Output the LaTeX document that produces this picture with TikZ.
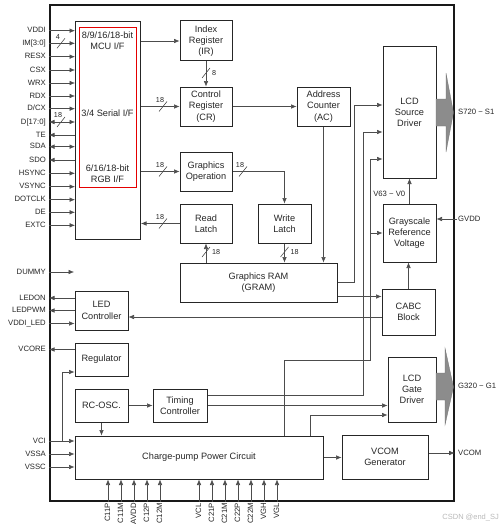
\documentclass[tikz,border=0pt]{standalone}
\usepackage{fontspec}
\setmainfont{Liberation Sans}
\usetikzlibrary{arrows.meta,calc}
\tikzset{
  blk/.style={draw=black!85, line width=1pt, align=center, inner sep=0pt,
    font=\fontsize{9.2}{11.3}\selectfont, text=black!85},
  pinl/.style={font=\fontsize{7.7}{8}\selectfont, inner sep=0pt, text=black!85,
    text height=5.6pt, text depth=1.3pt},
  buslbl/.style={font=\fontsize{7.2}{8}\selectfont, inner sep=0pt, text=black!85},
  ln/.style={draw=black!70, line width=0.6pt},
  arr/.style={ln, -{Latex[length=5.5pt,width=4.6pt]}},
  pinin/.style={arr},
  pinout/.style={ln, {Latex[length=5.5pt,width=4.6pt]}-},
  pinbi/.style={ln, {Latex[length=5.5pt,width=4.6pt]}-{Latex[length=5.5pt,width=4.6pt]}},
  bigarrow/.style={fill=black!45, draw=black!55, line width=0.3pt},
  bush/.pic={\draw[ln] (-4,5) -- (4,-5); \node[buslbl, anchor=south] at (-3,-4) {#1};},
  busv/.pic={\draw[ln] (-4,5) -- (4,-5); \node[buslbl, anchor=west] at (6,0) {#1};},
}
\newcommand\mkblk[6]{\node[blk, minimum width={(#4)-(#2)}, minimum height={(#5)-(#3)}]
  (#1) at ({((#2)+(#4))/2},{((#3)+(#5))/2}) {#6};}
\begin{document}
\begin{tikzpicture}[x=1pt,y=-1pt]
\useasboundingbox (0,0) rectangle (500,527);

% outer chip boundary
\node[draw=black!90, line width=1.7pt, minimum width=404pt, minimum height=496pt,
  anchor=north west, inner sep=0pt] (outer) at (49,4) {};

% interface block
\node[blk, minimum width=65pt, minimum height=218pt, anchor=north west] (iface) at (75,21) {};
\node[draw=red!90!black, line width=1.3pt, minimum width=57pt, minimum height=160pt,
  anchor=north west, inner sep=0pt] (redbox) at (79,27) {};
\node[blk, draw=none] (mcu) at (107.5,41) {8/9/16/18-bit\\MCU I/F};
\node[blk, draw=none] (ser) at (107.5,113) {3/4 Serial I/F};
\node[blk, draw=none] (rgb) at (107.5,174) {6/16/18-bit\\RGB I/F};

% blocks
\mkblk{ir}{180}{21}{232}{61}{Index\\Register\\(IR)}
\mkblk{cr}{180}{87}{232}{126}{Control\\Register\\(CR)}
\mkblk{go}{180}{152}{232}{191}{Graphics\\Operation}
\mkblk{rl}{180}{204}{232}{243}{Read\\Latch}
\mkblk{wl}{258}{204}{311}{243}{Write\\Latch}
\mkblk{gram}{180}{263}{337}{302}{Graphics RAM\\(GRAM)}
\mkblk{ac}{297}{87}{350}{126}{Address\\Counter\\(AC)}
\mkblk{sd}{383}{47}{436}{178}{LCD\\Source\\Driver}
\mkblk{gr}{383}{204}{436}{262}{Grayscale\\Reference\\Voltage}
\mkblk{cabc}{382}{289}{435}{335}{CABC\\Block}
\mkblk{led}{75}{291}{128}{330}{LED\\Controller}
\mkblk{reg}{75}{343}{128}{376}{Regulator}
\mkblk{rco}{75}{389}{128}{422}{RC-OSC.}
\mkblk{tc}{153}{389}{207}{422}{Timing\\Controller}
\mkblk{gd}{388}{357}{436}{422}{LCD\\Gate\\Driver}
\mkblk{cp}{75}{436}{323}{479}{Charge-pump Power Circuit}
\mkblk{vcom}{342}{435}{428}{479}{VCOM\\Generator}

% big output arrows
\filldraw[bigarrow] (436,99) -- (446,99) -- (446,73) -- (453.5,112.5) -- (446,152)
  -- (446,126) -- (436,126) -- cycle;
\filldraw[bigarrow] (436,373) -- (445,373) -- (445,348) -- (453.5,387) -- (445,425)
  -- (445,400) -- (436,400) -- cycle;

% left pins
\foreach \nm/\txt/\yy/\ty in {vddi/VDDI/30.7/in, im/{IM[3:0]}/43.3/in, resx/RESX/56.7/in,
  csx/CSX/70/in, wrx/WRX/83/in, rdx/RDX/96/in, dcx/{D/CX}/108.7/in, d/{D[17:0]}/122/bi,
  te/TE/135/out, sda/SDA/146.7/bi, sdo/SDO/160/out, hsync/HSYNC/173.3/in,
  vsync/VSYNC/186.7/in, dotclk/DOTCLK/199.7/in, de/DE/212.3/in, extc/EXTC/225.3/in}{
  \node[pinl, anchor=east] (p\nm) at (46,\yy) {\txt};
  \draw[pin\ty] (p\nm.east -| outer.west) -- (p\nm.east -| iface.west);
}
\path (61,43.3) pic {bush=4};
\path (61,122) pic {bush=18};

\node[pinl, anchor=east] (pdummy) at (46,272) {DUMMY};
\coordinate (dummyend) at (74,272);
\draw[arr] (pdummy.east -| outer.west) -- (dummyend);

\node[pinl, anchor=east] (pledon) at (46,298) {LEDON};
\node[pinl, anchor=east] (pledpwm) at (46,310.5) {LEDPWM};
\node[pinl, anchor=east] (pvddiled) at (46,323.5) {VDDI\_LED};
\node[pinl, anchor=east] (pvcore) at (46,349.5) {VCORE};
\node[pinl, anchor=east] (pvci) at (46,441) {VCI};
\node[pinl, anchor=east] (pvssa) at (46,454) {VSSA};
\node[pinl, anchor=east] (pvssc) at (46,467) {VSSC};
\draw[pinout] (pledon.east -| outer.west) -- (pledon.east -| led.west);
\draw[pinout] (pledpwm.east -| outer.west) -- (pledpwm.east -| led.west);
\draw[pinin] (pvddiled.east -| outer.west) -- (pvddiled.east -| led.west);
\draw[pinout] (pvcore.east -| outer.west) -- (pvcore.east -| reg.west);
\draw[pinin] (pvci.east -| outer.west) -- (pvci.east -| cp.west);
\draw[pinin] (pvssa.east -| outer.west) -- (pvssa.east -| cp.west);
\draw[pinin] (pvssc.east -| outer.west) -- (pvssc.east -| cp.west);
\coordinate (vcibr) at (62,441);
\coordinate (regin) at ([yshift=-12.5pt]reg.west);
\draw[arr] (vcibr) |- (regin);

% right pins
\node[pinl, anchor=west] (psrc) at (458,112.5) {S720 \textasciitilde{} S1};
\node[pinl, anchor=west] (pgate) at (458,386.5) {G320 \textasciitilde{} G1};
\node[pinl, anchor=west] (pgvdd) at (458,219) {GVDD};
\node[pinl, anchor=west] (pvcom) at (458,453) {VCOM};
\draw[arr] ([xshift=-1pt]pgvdd.west) -- (pgvdd.west -| gr.east);
\coordinate (vcomo) at ([yshift=4pt]vcom.east);
\draw[arr] (vcomo) -- (vcomo -| outer.east);

% bottom pins
\foreach \xx/\txt in {108/C11P, 121/C11M, 134/AVDD, 147/C12P, 160/C12M, 199/VCL,
  212/C21P, 225/C21M, 238/C22P, 251/C22M, 264/VGH, 277/VGL}{
  \node[pinl, rotate=90, anchor=east] (b\txt) at (\xx,503) {\txt};
  \draw[arr] (b\txt.east |- outer.south) -- (b\txt.east |- cp.south);
}

% internal connections
\draw[arr] (iface.east |- ir.west) -- (ir.west);
\draw[arr] (ir.south) -- (cr.north);
\path (206,73) pic {busv=8};
\draw[arr] (iface.east |- cr.west) -- (cr.west);
\path (163,106.5) pic {bush=18};
\draw[arr] (cr.east) -- (ac.west);
\draw[arr] (iface.east |- go.west) -- (go.west);
\path (163,171.5) pic {bush=18};
\draw[arr] (go.east) -| (wl.north);
\path (243,171.5) pic {bush=18};
\draw[arr] (rl.west) -- (iface.east |- rl.west);
\path (163,223.5) pic {bush=18};
\draw[arr] (gram.north -| rl.south) -- (rl.south);
\path (206,252) pic {busv=18};
\draw[arr] (wl.south) -- (wl.south |- gram.north);
\path (284.5,252) pic {busv=18};
\draw[arr] (ac.south) -- (ac.south |- gram.north);

% trunks to source driver
\coordinate (tA) at (354,0);
\coordinate (tB) at (363,0);
\coordinate (tC) at (370,0);
\coordinate (sd1) at ([yshift=7.5pt]sd.west);
\coordinate (sd2) at ([yshift=-19.5pt]sd.west);
\coordinate (sd3) at ([yshift=-46.5pt]sd.west);
\draw[arr] (gram.east) -- (gram.east -| tA) -- (tA |- sd1) -- (sd1);
\coordinate (tc1) at ([yshift=10.5pt]tc.east);
\draw[arr] (tc1) -- (tc1 -| tB) -- (tB |- sd2) -- (sd2);
\coordinate (cpo1) at ([xshift=85pt]cp.north);
\coordinate (cpj) at (284,360);
\draw[arr] (cpo1) -- (cpj) -- (cpj -| tC) -- (tC |- sd3) -- (sd3);
\draw[arr] (tC |- gr.west) -- (gr.west);

% grayscale / CABC
\draw[arr] (gr.north) -- (gr.north |- sd.south) node[pos=0.35, anchor=east, pinl, xshift=-4pt] (vlbl) {V63 \textasciitilde{} V0};
\coordinate (gc) at ([yshift=6pt]gram.south east);
\draw[arr] (gc) -- (gc -| cabc.west);
\draw[arr] (cabc.north) -- (cabc.north |- gr.south);
\coordinate (cl) at ([yshift=-6.5pt]led.east);
\draw[arr] (cl -| cabc.west) -- (cl);

% timing / oscillator / power
\draw[arr] (rco.east) -- (tc.west);
\draw[arr] (rco.south) -- (rco.south |- cp.north);
\draw[arr] (tc.east) -- (tc.east -| gd.west);
\coordinate (cpo2) at ([xshift=111pt]cp.north);
\coordinate (gd2) at ([yshift=-25.5pt]gd.west);
\draw[arr] (cpo2) |- (gd2);
\draw[arr] (cp.east) -- (cp.east -| vcom.west);

% watermark
\node[font=\fontsize{7.5}{8}\selectfont, text=gray!55, anchor=east, inner sep=0pt] (wm) at (499,518) {CSDN @end\_SJ};
\end{tikzpicture}
\end{document}
